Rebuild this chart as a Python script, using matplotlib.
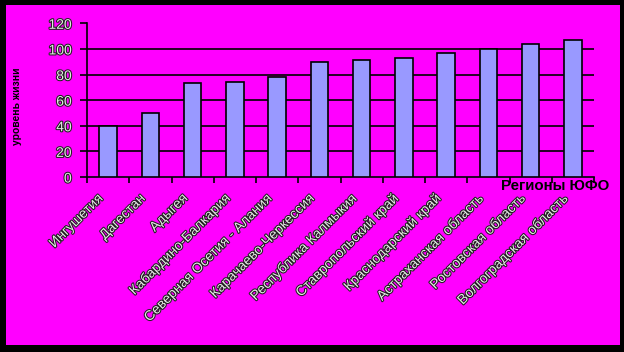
import numpy as np
import matplotlib
matplotlib.use("Agg")
import matplotlib.pyplot as plt
import matplotlib.patheffects as pe
from matplotlib.patches import Rectangle
from matplotlib.transforms import ScaledTranslation

regions = ["Ингушетия", "Дагестан", "Адыгея", "Кабардино-Балкария",
           "Северная Осетия - Алания", "Карачаево-Черкессия",
           "Республика Калмыкия", "Ставропольский край",
           "Краснодарский край", "Астраханская область",
           "Ростовская область", "Волгоградская область"]
values = [40, 50, 73, 74, 78, 89.5, 91, 93, 97, 100, 104, 107]
yticks = [0, 20, 40, 60, 80, 100, 120]

plt.rcParams['font.family'] = ['Liberation Sans', 'DejaVu Sans']

fig = plt.figure(figsize=(6.24, 3.52), dpi=100, facecolor='black')

# magenta panel inside the black frame
bg = fig.add_axes([0, 0, 1, 1], zorder=0)
bg.axis('off')
bg.set_xlim(0, 624)
bg.set_ylim(352, 0)
bg.add_patch(Rectangle((6, 5), 614, 340, facecolor='#ff00ff', edgecolor='none'))

ax = fig.add_axes([87 / 624, 1 - 177 / 352, (594 - 87) / 624, (177 - 23.3) / 352], zorder=2)
ax.set_facecolor('none')

x = np.arange(len(regions))
ax.bar(x, values, width=0.41, color='#9999ff', edgecolor='black', linewidth=1.2, zorder=3)

ax.set_xlim(-0.5, len(regions) - 0.5)
ax.set_ylim(0, 120)
for v in yticks[1:-1]:
    ax.axhline(v, color='black', linewidth=1.2, zorder=1)

for s in ['top', 'right']:
    ax.spines[s].set_visible(False)
for s in ['left', 'bottom']:
    ax.spines[s].set_linewidth(1.2)

outline = [pe.withStroke(linewidth=1.5, foreground='#202020')]

ax.set_yticks(yticks)
ax.set_yticklabels([str(v) for v in yticks], fontsize=10, color='#e6e6e6',
                   path_effects=outline)
ax.tick_params(axis='y', direction='out', length=5, width=1.2, pad=6)

# ticks between categories, labels at centres
ax.set_xticks(np.arange(len(regions) + 1) - 0.5)
ax.set_xticklabels([])
ax.tick_params(axis='x', which='major', direction='out', length=4, width=1.2)
ax.set_xticks(x, minor=True)
ax.set_xticklabels(regions, minor=True, rotation=45, ha='right',
                   rotation_mode='anchor', fontsize=10, color='#e6e6e6',
                   path_effects=outline)
ax.tick_params(axis='x', which='minor', length=0, pad=10)
off = ScaledTranslation(-12 / 100, 0, fig.dpi_scale_trans)
for lbl in ax.get_xticklabels(minor=True):
    lbl.set_transform(lbl.get_transform() + off)

fig.text(609 / 624, 1 - 186 / 352, "Регионы ЮФО", ha='right', va='center',
         fontsize=10.8, fontweight='bold', color='black', zorder=5)
fig.text(17 / 624, 1 - 106 / 352, "уровень жизни", rotation=90, ha='center',
         va='center', fontsize=7.5, fontweight='bold', color='black', zorder=5)

fig.savefig("out.png", dpi=100, facecolor=fig.get_facecolor())
